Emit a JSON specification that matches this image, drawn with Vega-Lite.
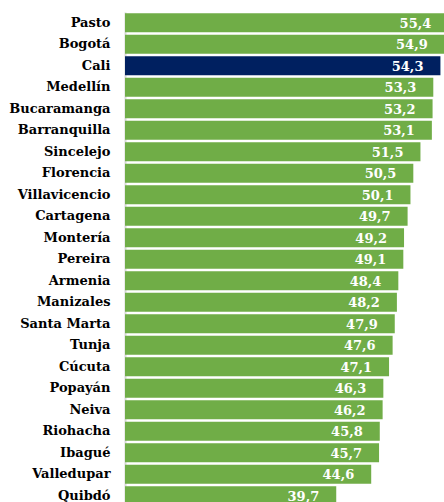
{
  "$schema": "https://vega.github.io/schema/vega-lite/v6.json",
  "width": 319,
  "height": 490,
  "autosize": "none",
  "padding": {"left": 125, "top": 12, "right": 0, "bottom": 0},
  "background": "white",
  "config": {
    "view": {"stroke": null},
    "locale": {"number": {"decimal": ",", "thousands": ".", "grouping": [3], "currency": ["$", ""]}}
  },
  "data": {
    "values": [
      {"ciudad": "Pasto", "valor": 55.4, "grupo": "otra"},
      {"ciudad": "Bogotá", "valor": 54.9, "grupo": "otra"},
      {"ciudad": "Cali", "valor": 54.3, "grupo": "cali"},
      {"ciudad": "Medellín", "valor": 53.3, "grupo": "otra"},
      {"ciudad": "Bucaramanga", "valor": 53.2, "grupo": "otra"},
      {"ciudad": "Barranquilla", "valor": 53.1, "grupo": "otra"},
      {"ciudad": "Sincelejo", "valor": 51.5, "grupo": "otra"},
      {"ciudad": "Florencia", "valor": 50.5, "grupo": "otra"},
      {"ciudad": "Villavicencio", "valor": 50.1, "grupo": "otra"},
      {"ciudad": "Cartagena", "valor": 49.7, "grupo": "otra"},
      {"ciudad": "Montería", "valor": 49.2, "grupo": "otra"},
      {"ciudad": "Pereira", "valor": 49.1, "grupo": "otra"},
      {"ciudad": "Armenia", "valor": 48.4, "grupo": "otra"},
      {"ciudad": "Manizales", "valor": 48.2, "grupo": "otra"},
      {"ciudad": "Santa Marta", "valor": 47.9, "grupo": "otra"},
      {"ciudad": "Tunja", "valor": 47.6, "grupo": "otra"},
      {"ciudad": "Cúcuta", "valor": 47.1, "grupo": "otra"},
      {"ciudad": "Popayán", "valor": 46.3, "grupo": "otra"},
      {"ciudad": "Neiva", "valor": 46.2, "grupo": "otra"},
      {"ciudad": "Riohacha", "valor": 45.8, "grupo": "otra"},
      {"ciudad": "Ibagué", "valor": 45.7, "grupo": "otra"},
      {"ciudad": "Valledupar", "valor": 44.6, "grupo": "otra"},
      {"ciudad": "Quibdó", "valor": 39.7, "grupo": "otra"}
    ]
  },
  "encoding": {
    "y": {
      "field": "ciudad",
      "type": "nominal",
      "sort": null,
      "scale": {"range": [0, 494.5], "paddingInner": 0.12, "paddingOuter": 0.06},
      "axis": {
        "title": null,
        "ticks": false,
        "labelPadding": 15,
        "labelFont": "DejaVu Serif",
        "labelFontWeight": "bold",
        "labelFontSize": 13,
        "labelColor": "#000000",
        "domainColor": "#d9d9d9",
        "domainWidth": 2,
        "grid": false
      }
    },
    "x": {
      "field": "valor",
      "type": "quantitative",
      "scale": {"domain": [10.1, 54.8], "zero": false, "nice": false},
      "axis": null
    }
  },
  "layer": [
    {
      "mark": {"type": "bar", "clip": true},
      "encoding": {
        "color": {
          "field": "grupo",
          "type": "nominal",
          "scale": {"domain": ["otra", "cali"], "range": ["#70ad47", "#002060"]},
          "legend": null
        }
      }
    },
    {
      "mark": {
        "type": "text",
        "clip": true,
        "align": "right",
        "baseline": "middle",
        "dx": -17,
        "dy": 1,
        "font": "DejaVu Serif",
        "fontWeight": "bold",
        "fontSize": 13,
        "color": "white"
      },
      "encoding": {
        "text": {"field": "valor", "type": "quantitative", "format": ".1f"}
      }
    }
  ]
}
